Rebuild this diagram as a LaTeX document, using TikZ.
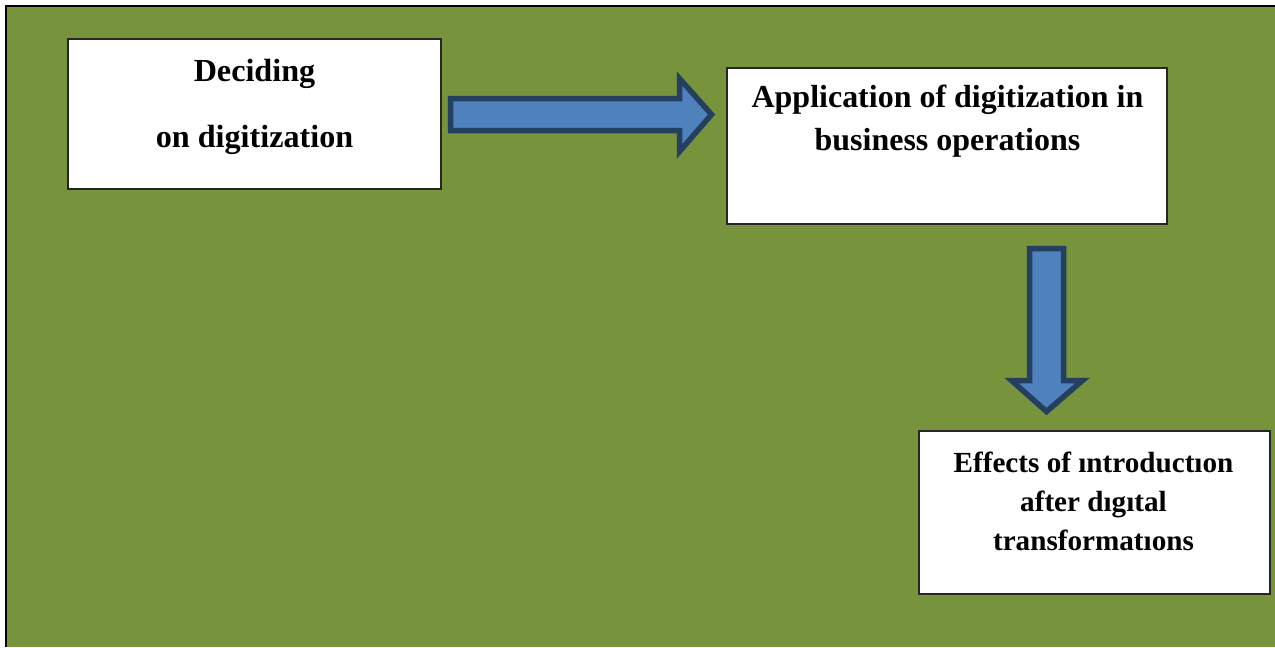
\documentclass[tikz,border=0pt]{standalone}
\usepackage{fontspec}
\setmainfont{Liberation Serif}
\usepackage{tikz}
\usetikzlibrary{positioning}
\definecolor{pagegreen}{HTML}{77933C}
\definecolor{arrowblue}{HTML}{4F81BD}
\definecolor{arrowedge}{HTML}{243F60}

\tikzset{
    stagebox/.style={draw=black!85, line width=0.03cm, fill=white, inner sep=0pt},
    stagetext/.style={align=center, font=\bfseries, inner sep=0pt},
    blockarrow/.style={draw=arrowedge, fill=arrowblue, line width=0.11cm, line join=miter}
}

\begin{document}
\begin{tikzpicture}[x=0.02cm, y=-0.02cm]
    \useasboundingbox (0,0) rectangle (1275,647);

    % Page background
    \fill[white] (0,0) rectangle (1275,647);
    \fill[pagegreen] (6,6) rectangle (1275,647);
    \draw[black, line width=0.04cm] (6,647) -- (6,6) -- (1275,6);

    % Box 1: deciding
    \node[stagebox, minimum width=7.46cm, minimum height=3.0cm] (decide) at (254.5,114) {};
    \node[stagetext, font={\fontsize{18.3}{37.6}\selectfont\bfseries}] (decidetext) at (254.5,107) {Deciding\\on digitization};

    % Box 2: application
    \node[stagebox, minimum width=8.8cm, minimum height=3.12cm] (apply) at (947,146) {};
    \node[stagetext, font={\fontsize{18.2}{24.5}\selectfont\bfseries}] (applytext) at (947.5,121.5) {Application of digitization in\\business operations};

    % Box 3: effects
    \node[stagebox, minimum width=7.02cm, minimum height=3.26cm] (effect) at (1094.5,512.5) {};
    \node[stagetext, font={\fontsize{16.6}{22.2}\selectfont\bfseries}] (effecttext) at (1093.5,501) {Effects of ıntroductıon\\after dıgıtal\\transformatıons};

    % Arrow right: box 1 to box 2
    \draw[blockarrow] (450.5,98.5) -- (679.5,98.5) -- (679.5,78.5) -- (711.5,114.5)
        -- (679.5,151.5) -- (679.5,130.5) -- (450.5,130.5) -- cycle;

    % Arrow down: box 2 to box 3
    \draw[blockarrow] (1029.5,248.5) -- (1063.5,248.5) -- (1063.5,380.5) -- (1082.5,380.5)
        -- (1046.5,411.5) -- (1011.5,380.5) -- (1029.5,380.5) -- cycle;
\end{tikzpicture}
\end{document}
